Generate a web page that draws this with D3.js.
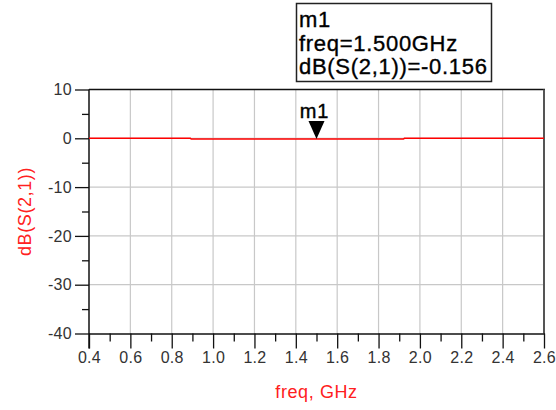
<!DOCTYPE html>
<html>
<head>
<meta charset="utf-8">
<script src="https://cdn.jsdelivr.net/npm/d3@7"></script>
<style>
  html, body { margin: 0; padding: 0; background: #fff; }
  svg { display: block; font-family: "Liberation Sans", Arial, sans-serif; }
</style>
</head>
<body>
<svg id="chart" width="556" height="410"></svg>
<script>
// S21 sweep (dB) versus frequency (GHz)
const freqGHz = [0.4, 0.5, 0.6, 0.7, 0.8, 0.89, 0.895, 1.0, 1.1, 1.2, 1.3, 1.4, 1.5, 1.6, 1.7, 1.8, 1.9, 1.92, 1.925, 2.0, 2.1, 2.2, 2.3, 2.4, 2.5, 2.6];
const s21dB   = [0.0, 0.0, 0.0, 0.0, 0.0, 0.0, -0.156, -0.156, -0.156, -0.156, -0.156, -0.156, -0.156, -0.156, -0.156, -0.156, -0.156, -0.156, 0.0, 0.0, 0.0, 0.0, 0.0, 0.0, 0.0, 0.0];

const xMajorTicks = [0.4, 0.6, 0.8, 1.0, 1.2, 1.4, 1.6, 1.8, 2.0, 2.2, 2.4, 2.6];
const xMinorTicks = [0.5, 0.7, 0.9, 1.1, 1.3, 1.5, 1.7, 1.9, 2.1, 2.3, 2.5];
const yMajorTicks = [10, 0, -10, -20, -30, -40];
const yMinorTicks = [5, -5, -15, -25, -35];

const markerName = "m1";
const markerFreq = 1.5;
const markerValue = -0.156;

const svg = d3.select("#chart");
const plotL = 89, plotR = 544, plotT = 89.5, plotB = 333.5;

const x = d3.scaleLinear().domain([0.4, 2.6]).range([plotL, plotR]);
const y = d3.scaleLinear().domain([-40, 10]).range([plotB, plotT]);

// grid
const grid = svg.append("g").attr("stroke", "#c8c8c8").attr("stroke-width", 1.2);
xMajorTicks.slice(1, -1).forEach(v => {
  grid.append("line").attr("x1", x(v)).attr("x2", x(v)).attr("y1", plotT).attr("y2", plotB);
});
yMajorTicks.slice(1, -1).forEach(v => {
  grid.append("line").attr("x1", plotL).attr("x2", plotR).attr("y1", y(v)).attr("y2", y(v));
});

// frame: top and right edges
svg.append("line").attr("x1", plotL).attr("x2", plotR + 1).attr("y1", plotT).attr("y2", plotT)
  .attr("stroke", "#111").attr("stroke-width", 1.5);
svg.append("line").attr("x1", plotR).attr("x2", plotR).attr("y1", plotT).attr("y2", plotB)
  .attr("stroke", "#555").attr("stroke-width", 2);

// axes (plain hyphen for negative labels)
const xAxis = svg.append("g").attr("transform", `translate(0,${plotB})`)
  .call(d3.axisBottom(x).tickValues(xMajorTicks).tickFormat(d3.format(".1f")).tickSize(15).tickPadding(3));
svg.append("g").attr("transform", `translate(0,${plotB})`)
  .call(d3.axisBottom(x).tickValues(xMinorTicks).tickFormat("").tickSize(8))
  .select(".domain").remove();
const yAxis = svg.append("g").attr("transform", `translate(${plotL},0)`)
  .call(d3.axisLeft(y).tickValues(yMajorTicks).tickFormat(d => String(d)).tickSize(14).tickPadding(3));
svg.append("g").attr("transform", `translate(${plotL},0)`)
  .call(d3.axisLeft(y).tickValues(yMinorTicks).tickFormat("").tickSize(7))
  .select(".domain").remove();

svg.selectAll(".domain").attr("stroke", "#111").attr("stroke-width", 1.5);
svg.selectAll(".tick line").attr("stroke", "#111").attr("stroke-width", 1.3);
xAxis.selectAll(".domain").attr("d", `M${plotL},0.5H${plotR + 1}`);
yAxis.selectAll(".domain").attr("d", `M0,${plotT}V${plotB + 15}`);
svg.selectAll(".tick text").attr("font-size", 16).attr("fill", "#333")
  .attr("letter-spacing", 0.3)
  .attr("font-family", "'Liberation Sans', Arial, sans-serif");

// axis titles
svg.append("text").attr("x", (plotL + plotR) / 2).attr("y", 398)
  .attr("text-anchor", "middle").attr("fill", "#ff2020").attr("font-size", 18)
  .attr("letter-spacing", 0.6).text("freq, GHz");
svg.append("text").attr("transform", `translate(31,${(plotT + plotB) / 2}) rotate(-90)`)
  .attr("text-anchor", "middle").attr("fill", "#ff2020").attr("font-size", 18)
  .attr("letter-spacing", 0.6).text("dB(S(2,1))");

// trace
const line = d3.line().x((d, i) => x(freqGHz[i])).y(d => y(d));
svg.append("path").datum(s21dB).attr("d", line)
  .attr("fill", "none").attr("stroke", "#ff0000").attr("stroke-width", 1.6);

// marker
const mx = x(markerFreq), my = y(markerValue);
svg.append("path")
  .attr("d", `M${mx - 8},${my - 18}L${mx + 8},${my - 18}L${mx},${my}Z`)
  .attr("fill", "#000");
svg.append("text").attr("x", mx - 2).attr("y", my - 21).attr("text-anchor", "middle")
  .attr("font-size", 20).attr("fill", "#000").attr("stroke", "#000").attr("stroke-width", 0.4)
  .attr("letter-spacing", 0.8).text(markerName);

// marker readout box
const box = svg.append("g");
box.append("rect").attr("x", 296.5).attr("y", 3.5).attr("width", 195).attr("height", 78)
  .attr("fill", "#fff").attr("stroke", "#222").attr("stroke-width", 1.5);
const lines = [markerName, `freq=${markerFreq.toFixed(3)}GHz`, `dB(S(2,1))=${markerValue.toFixed(3)}`];
lines.forEach((t, i) => {
  box.append("text").attr("x", 299).attr("y", 27 + i * 23.5)
    .attr("font-size", 22).attr("fill", "#000").attr("stroke", "#000").attr("stroke-width", 0.35)
    .attr("letter-spacing", 0.7).text(t);
});
</script>
</body>
</html>
